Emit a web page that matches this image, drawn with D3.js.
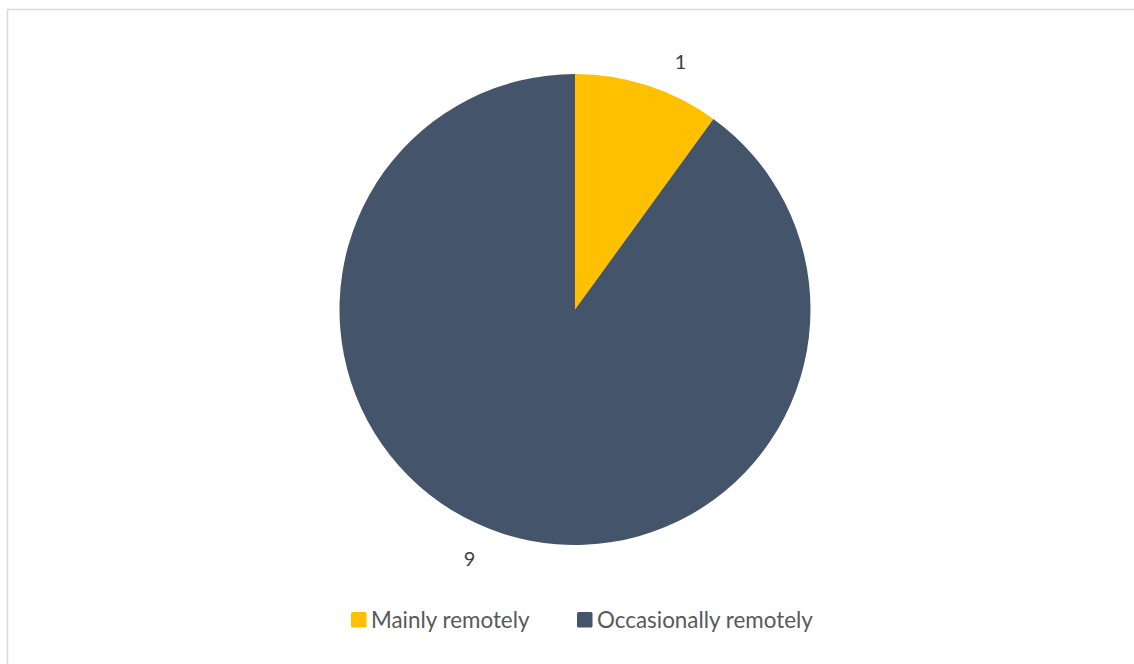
<!DOCTYPE html>
<html>
<head>
<meta charset="utf-8">
<script src="https://cdn.jsdelivr.net/npm/d3@7"></script>
<style>
  html, body { margin: 0; padding: 0; background: #fff; }
  svg { display: block; }
</style>
</head>
<body>
<svg id="chart" width="1134" height="664"></svg>
<script>
// Work location split
const categories = ["Mainly remotely", "Occasionally remotely"];
const values = [1, 9];
const colors = ["#FFC000", "#44546A"];

const svg = d3.select("#chart");
const W = 1134, H = 664;
const fontFamily = "Lato, 'Open Sans', 'Liberation Sans', sans-serif";

// chart area frame
svg.append("rect")
  .attr("x", 7.5).attr("y", 9.5)
  .attr("width", W + 20).attr("height", H + 20)
  .attr("fill", "#fff")
  .attr("stroke", "#d9d9d9").attr("stroke-width", 1.5);

const cx = 575, cy = 309.5, radius = 235.5;

const pie = d3.pie().value(d => d).sort(null);
const arcs = pie(values);
const arc = d3.arc().innerRadius(0).outerRadius(radius);

const g = svg.append("g").attr("transform", `translate(${cx},${cy})`);

g.selectAll("path.slice")
  .data(arcs)
  .join("path")
  .attr("class", "slice")
  .attr("d", arc)
  .attr("fill", (d, i) => colors[i]);

// outside-end value labels
const labelR = 270, nudge = 0.087;
g.selectAll("text.value")
  .data(arcs)
  .join("text")
  .attr("class", "value")
  .attr("x", d => labelR * Math.sin((d.startAngle + d.endAngle) / 2 + nudge))
  .attr("y", d => -labelR * Math.cos((d.startAngle + d.endAngle) / 2 + nudge))
  .attr("text-anchor", "middle")
  .attr("dominant-baseline", "central")
  .attr("font-family", fontFamily)
  .attr("font-size", 20)
  .attr("fill", "#404040")
  .text(d => d.data);

// legend
const legendX = [351, 577];
const legend = svg.append("g");
categories.forEach((c, i) => {
  const lg = legend.append("g").attr("transform", `translate(${legendX[i]},612)`);
  lg.append("rect")
    .attr("width", 15.5).attr("height", 15.5)
    .attr("rx", 1.5)
    .attr("fill", colors[i]);
  lg.append("text")
    .attr("x", 20).attr("y", 16)
    .attr("font-family", fontFamily)
    .attr("font-size", 22.4)
    .attr("fill", "#595959")
    .text(c);
});
</script>
</body>
</html>
